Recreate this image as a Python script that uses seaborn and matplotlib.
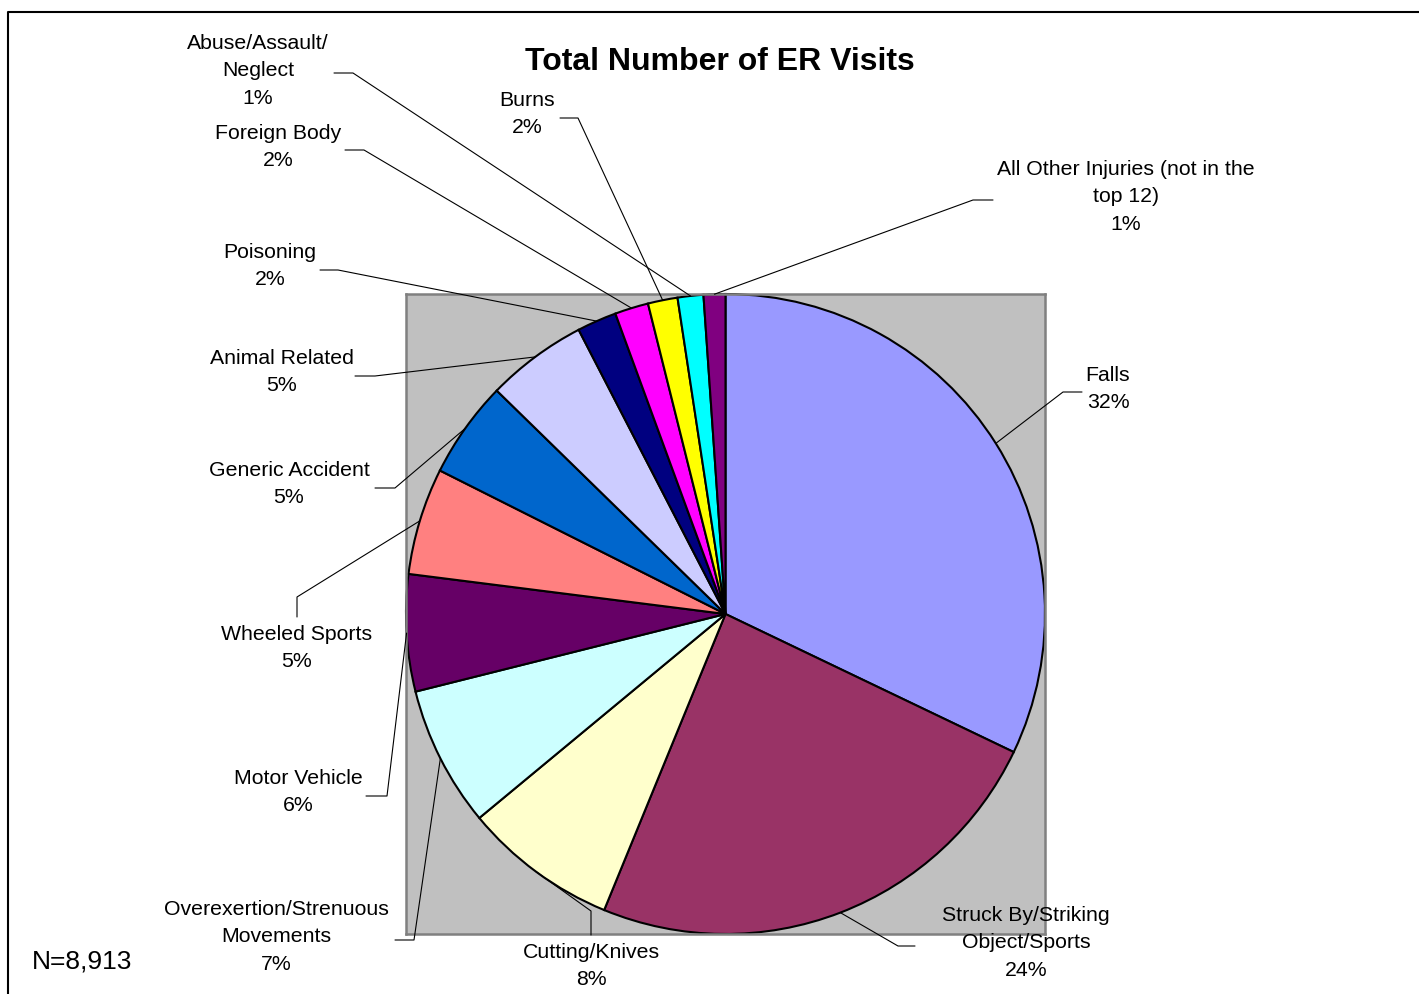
import numpy as np
import matplotlib.pyplot as plt
import seaborn as sns
from matplotlib.lines import Line2D

# ER visits by injury type, clockwise from 12 o'clock (percent of N=8,913)
categories = ["Falls", "Struck By/Striking\nObject/Sports", "Cutting/Knives",
              "Overexertion/Strenuous\nMovements", "Motor Vehicle", "Wheeled Sports",
              "Generic Accident", "Animal Related", "Poisoning", "Foreign Body",
              "Burns", "Abuse/Assault/\nNeglect", "All Other Injuries (not in the\ntop 12)"]
shares = [32.1, 24.1, 7.8, 7.1, 5.9, 5.4, 4.9, 5.1, 2.0, 1.7, 1.5, 1.3, 1.1]
colors = ["#9999FF", "#993366", "#FFFFCC", "#CCFFFF", "#660066", "#FF8080",
          "#0066CC", "#CCCCFF", "#000080", "#FF00FF", "#FFFF00", "#00FFFF", "#800080"]

# label block centres and leader elbows (pixels in the 1419x994 image)
label_pos = [(1108, 389), (1026, 943), (591, 966), (276, 937), (298, 792), (297, 648),
             (289, 484), (282, 372), (270, 266), (278, 147), (527, 114), (258, 71), (1126, 197)]
leader_pts = [[(1063, 392), (1082, 392)], [(898, 946), (915, 946)], [(591, 911), (591, 935)],
              [(414, 940), (395, 940)], [(387, 796), (366, 796)], [(297, 597), (297, 617)],
              [(395, 488), (375, 488)], [(375, 376), (355, 376)], [(338, 270), (320, 270)],
              [(364, 150), (345, 150)], [(578, 118), (560, 118)], [(353, 73), (334, 73)],
              [(973, 200), (993, 200)]]

sns.set_theme(style="white")
plt.rcParams['font.family'] = ['Liberation Sans', 'DejaVu Sans']

W, H = 1419, 994
fig = plt.figure(figsize=(W / 100, H / 100), dpi=100)
fig.patch.set_facecolor("white")

def fx(px, py):
    return px / W, 1 - py / H

ax = fig.add_axes([406 / W, 1 - 934 / H, 639 / W, 640 / H])
wedges, _ = ax.pie(shares, colors=sns.color_palette(colors), startangle=90, counterclock=False,
                   radius=1, wedgeprops=dict(edgecolor="black", linewidth=1.5))
ax.set_xlim(-1, 1)
ax.set_ylim(-1, 1)
ax.set_aspect("auto")
ax.set_frame_on(True)
ax.set_facecolor("#C0C0C0")
for s in ax.spines.values():
    s.set_color("#808080")
    s.set_linewidth(1.8)
ax.set_xticks([])
ax.set_yticks([])

to_fig = fig.transFigure.inverted()
for w, name, v, (lx, ly), pts in zip(wedges, categories, shares, label_pos, leader_pts):
    mid = np.deg2rad((w.theta1 + w.theta2) / 2)
    anchor = ax.transData.transform((w.r * np.cos(mid), w.r * np.sin(mid)))
    ax_fig = to_fig.transform(anchor)
    xs = [ax_fig[0]] + [fx(*p)[0] for p in pts]
    ys = [ax_fig[1]] + [fx(*p)[1] for p in pts]
    fig.add_artist(Line2D(xs, ys, color="black", linewidth=0.8, transform=fig.transFigure))
    fig.text(*fx(lx, ly), f"{name}\n{round(v)}%", ha="center", va="center",
             multialignment="center", fontsize=15.3, linespacing=1.55, color="black")

fig.text(*fx(720, 62), "Total Number of ER Visits", ha="center", va="center",
         fontsize=23, fontweight="bold", color="black")
fig.text(*fx(82, 962), "N=8,913", ha="center", va="center", fontsize=19, color="black")

# outer chart border (only left and top edges are visible)
fig.add_artist(Line2D([8 / W, 8 / W, 1], [0, 1 - 12 / H, 1 - 12 / H],
                      color="black", linewidth=1.5, transform=fig.transFigure))

fig.savefig("out.png", dpi=100)
